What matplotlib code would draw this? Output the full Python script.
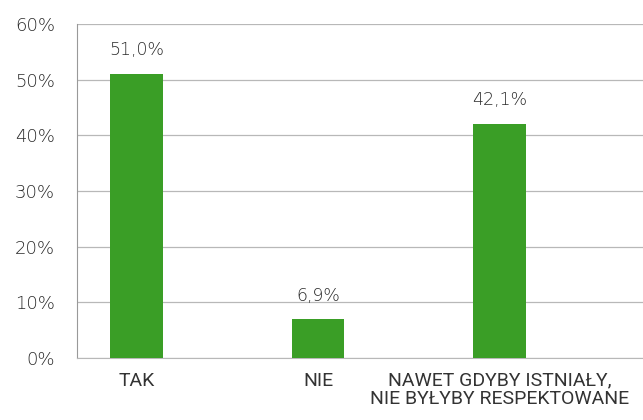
import matplotlib

matplotlib.use("Agg")
import matplotlib.pyplot as plt  # noqa: E402
import numpy as np  # noqa: E402

categories = ["TAK", "NIE", "NAWET GDYBY ISTNIAŁY,\nNIE BYŁYBY RESPEKTOWANE"]
values = [51.0, 6.9, 42.1]
labels = ["51,0%", "6,9%", "42,1%"]
yticks = [0, 10, 20, 30, 40, 50, 60]

plt.rcParams["font.family"] = ["DejaVu Sans"]
narrow = ["Roboto", "Liberation Sans", "DejaVu Sans"]

fig = plt.figure(figsize=(6.43, 4.2), dpi=100)
ax = fig.add_axes([0.12, 0.148, 0.88, 0.795])

x = np.arange(len(categories))
green = "#3a9e26"
ax.bar(x, values, width=0.29, color=green, zorder=3)
for xi, v, lab in zip(x, values, labels):
    ax.text(xi, v + 3.4, lab, ha="center", va="baseline", fontsize=12.5,
            color="#2a2a2a", fontweight="light")

ax.set_xlim(-0.328, 2.79)
ax.set_ylim(0, 60)
ax.set_yticks(yticks)
ax.set_yticklabels([f"{t}%" for t in yticks], fontsize=13, color="#2a2a2a",
                   fontweight="light")
ax.set_xticks(x)
ax.set_xticklabels(categories, fontsize=14, color="#333333", linespacing=1.0,
                   family=narrow)
ax.tick_params(axis="both", length=0)
ax.tick_params(axis="x", pad=10)
ax.tick_params(axis="y", pad=16)

ax.grid(True, axis="y", color="#b8b8b8", linewidth=0.9, zorder=0)
for s in ["top", "right"]:
    ax.spines[s].set_visible(False)
ax.spines["left"].set_color("#999999")
ax.spines["bottom"].set_color("#b8b8b8")

fig.savefig("out.png", dpi=100)
plt.close(fig)
